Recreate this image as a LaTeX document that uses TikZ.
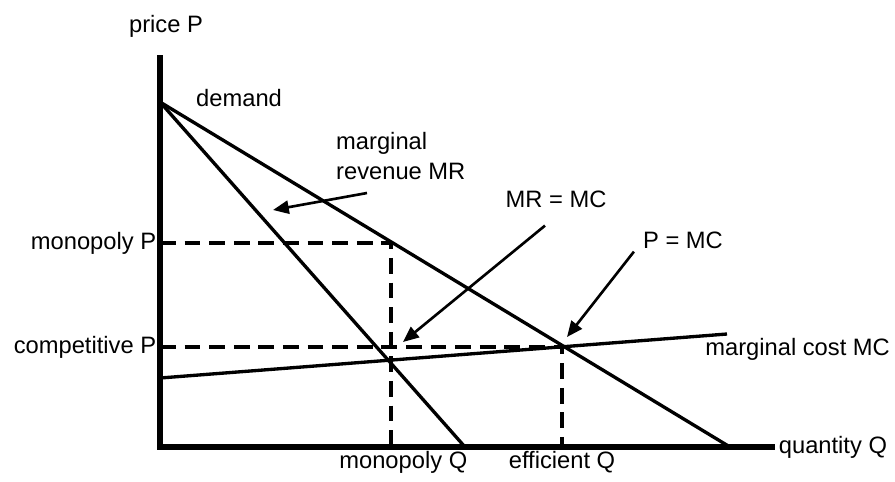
\documentclass[tikz,border=0pt]{standalone}
\usepackage{fontspec}
\setmainfont{Liberation Sans}
\usetikzlibrary{arrows.meta}

\begin{document}
\begin{tikzpicture}[x=0.02cm, y=-0.02cm, font=\fontsize{13.5}{17}\selectfont,
	curve/.style={line width=1.9pt},
	guide/.style={line width=2pt, dash pattern=on 9pt off 5pt},
	pointer/.style={line width=1.5pt, -{Triangle[length=9pt,width=7.5pt]}}]

	\useasboundingbox (0,0) rectangle (895,481);

	\coordinate (origin) at (160,447);
	\coordinate (ytop) at (160,55);
	\coordinate (xend) at (775,447);
	\coordinate (choke) at (160,102);
	\coordinate (dend) at (730,447);
	\coordinate (mrend) at (465,447);
	\coordinate (mcstart) at (160,378);
	\coordinate (mcend) at (727,334);
	\coordinate (monopt) at (391,243);
	\coordinate (mrmc) at (391,360);
	\coordinate (effpt) at (562,347);


	\draw[guide] (monopt -| origin) -- (monopt) -- (monopt |- origin);
	\draw[guide] (effpt -| origin) -- (effpt) -- (effpt |- origin);

	\draw[curve] (choke) -- (dend);
	\draw[curve] (choke) -- (mrend);
	\draw[curve] (mcstart) -- (mcend);

	\draw[line width=3.4pt, line join=miter] (ytop) -- (origin) -- (xend);


	\node (price) at (166,26) {price P};
	\node[anchor=west, inner sep=2pt] (quantity) at (xend) {quantity Q};
	\node[anchor=west] (demand) at (190,98) {demand};
	\node[anchor=east, inner sep=2pt] (monoP) at (monopt -| origin) {monopoly P};
	\node[anchor=east, inner sep=2pt] (compP) at (effpt -| origin) {competitive P};
	\node[anchor=north, inner sep=2pt] (monoQ) at ([xshift=7]monopt |- origin) {monopoly Q};
	\node[anchor=north, inner sep=2pt] (effQ) at (effpt |- origin) {efficient Q};
	\node[anchor=east, inner sep=1pt] (mcline) at (892,349) {marginal cost MC};
	\node[anchor=north west, align=left] (mrline) at (330,126) {marginal\\revenue MR};
	\node (mrmcl) at (556,199) {MR = MC};
	\node (pmcl) at (683,240) {P = MC};

	\coordinate (mrtip) at (273,210);
	\coordinate (mrmctip) at (403,342);
	\coordinate (pmctip) at (567,337);

	\draw[pointer] (367,193) -- (mrtip);
	\draw[pointer] (mrmcl.south) ++(-11,12) -- (mrmctip);
	\draw[pointer] (pmcl.south west) ++(-3,-3) -- (pmctip);


\end{tikzpicture}
\end{document}
